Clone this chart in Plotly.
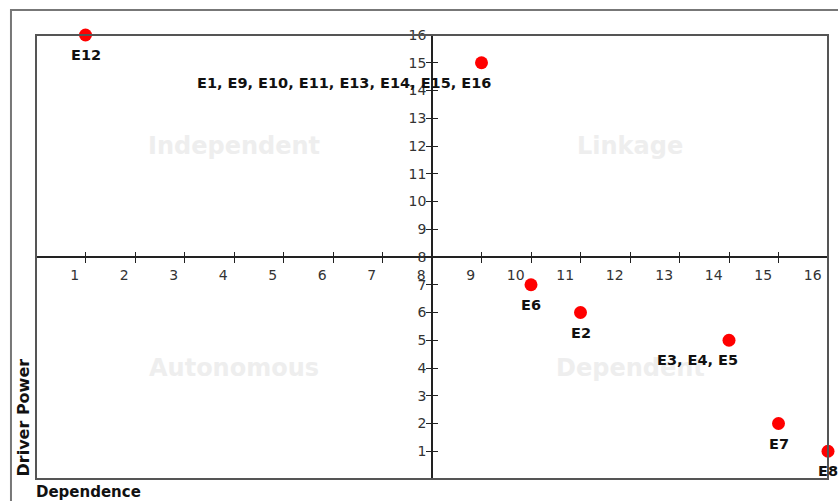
import plotly.graph_objects as go

# ---- data ----
labels = ["E12", "E1, E9, E10, E11, E13, E14, E15, E16", "E6", "E2", "E3, E4, E5", "E7", "E8"]
dependence = [1, 9, 10, 11, 14, 15, 16]
driver_power = [16, 15, 7, 6, 5, 2, 1]
tick_values = list(range(1, 17))
quadrant_names = ["Independent", "Linkage", "Autonomous", "Dependent"]
quadrant_x = [4, 12, 4, 12]
quadrant_y = [12, 12, 4, 4]
axis_max = 16
axis_mid = 8

FONT = "DejaVu Sans"

fig = go.Figure()

# invisible trace to activate overlay axes (for crossing tick marks)
fig.add_trace(go.Scatter(x=[None], y=[None], xaxis="x2", yaxis="y2",
                         showlegend=False, hoverinfo="skip"))

fig.add_trace(go.Scatter(
    x=dependence, y=driver_power, mode="markers",
    marker=dict(color="#ff0000", size=13),
    cliponaxis=False, showlegend=False,
))

# quadrant names (drawn first, behind point labels)
for name, qx, qy in zip(quadrant_names, quadrant_x, quadrant_y):
    fig.add_annotation(
        x=qx, y=qy, text=f"<b>{name}</b>", showarrow=False,
        font=dict(family=FONT, size=24, color="#eeeeee"),
        xanchor="center", yanchor="middle",
    )

# point labels
for lab, xv, yv in zip(labels, dependence, driver_power):
    multi = "," in lab
    fig.add_annotation(
        x=xv, y=yv, text=f"<b>{lab}</b>", showarrow=False,
        xanchor="right" if multi else "center",
        xshift=11 if multi else 0,
        yshift=-20, yanchor="middle",
        font=dict(family=FONT, size=14.5, color="#111111"),
    )

tick_font = dict(family=FONT, size=14, color="#333333")
common = dict(range=[0, axis_max], showgrid=False, zeroline=False,
              tickvals=tick_values, domain=[0, 1], anchor="free",
              position=axis_mid / axis_max)

fig.update_layout(
    width=838, height=501,
    margin=dict(l=36, r=10, t=35, b=22),
    paper_bgcolor="white", plot_bgcolor="white",
    xaxis=dict(**common, showline=True, linecolor="#222222", linewidth=1.5,
               ticks="outside", ticklen=5, tickwidth=1.3, tickcolor="#222222",
               ticklabelposition="outside left", ticklabelshift=-5,
               ticklabelstandoff=5, tickfont=tick_font),
    yaxis=dict(**common, showline=True, linecolor="#222222", linewidth=1.5,
               ticks="outside", ticklen=5, tickwidth=1.3, tickcolor="#222222",
               tickfont=tick_font, ticklabelstandoff=-3),
    xaxis2=dict(**common, overlaying="x", showline=False, ticks="inside",
                ticklen=5, tickwidth=1.3, tickcolor="#222222",
                showticklabels=False),
    yaxis2=dict(**common, overlaying="y", showline=False, ticks="inside",
                ticklen=5, tickwidth=1.3, tickcolor="#222222",
                showticklabels=False),
    shapes=[
        # plot-area frame
        dict(type="rect", xref="paper", yref="paper", x0=0, x1=1, y0=0, y1=1,
             line=dict(color="#555555", width=2), layer="above"),
        # outer frame
        dict(type="rect", xref="paper", yref="paper", x0=-0.0316, x1=1.2,
             y0=-0.3, y1=1.0563, line=dict(color="#777777", width=2)),
    ],
)

# axis titles
fig.add_annotation(xref="paper", yref="paper", x=0, y=0, xanchor="left",
                   yanchor="top", yshift=-2, xshift=-2, text="<b>Dependence</b>",
                   showarrow=False, font=dict(family=FONT, size=15, color="#111111"))
fig.add_annotation(xref="paper", yref="paper", x=0, y=0, xanchor="right",
                   yanchor="bottom", xshift=-2, textangle=-90,
                   text="<b>Driver Power</b>", showarrow=False,
                   font=dict(family=FONT, size=16, color="#111111"))

fig.write_html(
    "out.html",
    config={"displayModeBar": False},
    post_script="document.body.style.margin='0';document.body.style.overflow='hidden';",
)
